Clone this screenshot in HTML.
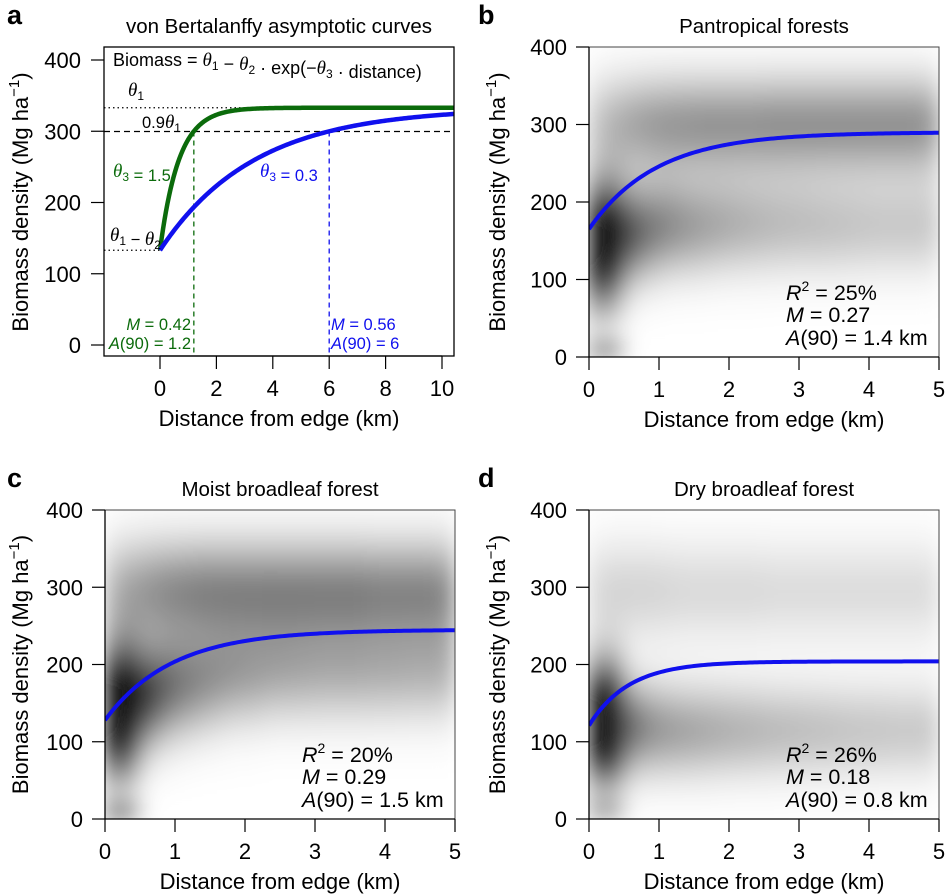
<!DOCTYPE html>
<html><head><meta charset="utf-8">
<style>
html,body{margin:0;padding:0;background:#fff;}
svg{display:block;font-family:"Liberation Sans",Arial,sans-serif;}
.t{font-size:22px;fill:#000;}
.ti{font-size:20.5px;fill:#000;}
.st{font-size:21.5px;fill:#000;}
</style></head>
<body>
<svg id="fig" width="946" height="895" viewBox="0 0 946 895" xmlns="http://www.w3.org/2000/svg">
<defs>
<filter id="blur" x="-10%" y="-10%" width="120%" height="120%"><feGaussianBlur stdDeviation="11"/></filter>
<clipPath id="clipA"><rect x="104" y="47" width="350" height="309"/></clipPath>
</defs>
</svg>
<script>
// ---------- data ----------
const aTheta1 = 333, aTheta2 = 200;
const aTheta3 = [1.5, 0.3];
const aA90 = [1.2, 6];
const aColors = ['#0b6b0b', '#1010ee'];
const aXTicks = [0, 2, 4, 6, 8, 10];
const yTicks = [0, 100, 200, 300, 400];
const xTicks5 = [0, 1, 2, 3, 4, 5];
const fitTheta1 = [290, 245, 204];
const fitStart = [165, 128, 121];
const fitA90 = [1.4, 1.5, 0.8];
const fitStats = [['25%', '0.27', '1.4'], ['20%', '0.29', '1.5'], ['26%', '0.18', '0.8']];
const panelTitles = ['Pantropical forests', 'Moist broadleaf forest', 'Dry broadleaf forest'];
const bUpperI = [0.22,0.3,0.36,0.4,0.42,0.43,0.44,0.44,0.44,0.44,0.45,0.45,0.45,0.45,0.45,0.45,0.45,0.45,0.45,0.43];
const bLowerMu = [145,150,160,165,170,170,170,172,172,172,172,172,172,170,170,170,170,170,170,170];
const bLowerI = [1.4,1.1,0.7,0.55,0.48,0.42,0.38,0.35,0.32,0.3,0.28,0.27,0.26,0.25,0.24,0.23,0.22,0.22,0.22,0.22];
const cUpperI = [0.28,0.36,0.42,0.46,0.48,0.5,0.5,0.5,0.5,0.5,0.5,0.5,0.5,0.5,0.5,0.48,0.48,0.48,0.48,0.46];
const cLowerMu = [140,145,160,170,175,180,185,190,190,195,195,195,195,195,195,195,195,195,195,195];
const cLowerI = [1.4,1.2,0.8,0.62,0.52,0.46,0.42,0.39,0.37,0.35,0.34,0.33,0.32,0.32,0.32,0.31,0.31,0.3,0.3,0.3];
const dUpperI = [0.15,0.17,0.17,0.17,0.16,0.15,0.15,0.15,0.15,0.15,0.14,0.14,0.14,0.14,0.14,0.14,0.14,0.14,0.14,0.14];
const dLowerMu = [125,125,120,118,116,115,115,115,115,115,115,115,115,115,115,115,115,115,115,115];
const dLowerI = [1.5,1.3,0.6,0.45,0.4,0.37,0.35,0.33,0.31,0.3,0.28,0.27,0.26,0.25,0.24,0.23,0.23,0.22,0.22,0.22];

// ---------- helpers ----------
const NS = 'http://www.w3.org/2000/svg';
const svg = document.getElementById('fig');
function mk(tag, attrs, parent, text) {
  const e = document.createElementNS(NS, tag);
  for (const k in attrs) e.setAttribute(k, attrs[k]);
  if (text !== undefined) e.textContent = text;
  (parent || svg).appendChild(e);
  return e;
}
function scale(d0, d1, r0, r1) { return v => r0 + (v - d0) / (d1 - d0) * (r1 - r0); }

function yAxisLabel(x, yc, g) {
  const t = mk('text', {x: 0, y: 0, class: 't', transform: `translate(${x},${yc}) rotate(-90)`, 'text-anchor': 'middle'}, g);
  
  
  t.innerHTML = 'Biomass density (Mg ha<tspan dy="-9" font-size="15">\u22121</tspan><tspan dy="9">)</tspan>';
}

// ---------- panel a ----------
(function () {
  const g = mk('g', {});
  
  
  const X = scale(0, 10, 160, 442), Y = scale(0, 400, 345, 60);
  const lt = mk('text', {x: 7, y: 24, 'font-size': '27', 'font-weight': 'bold'}, g, 'a');
  
  
  const tt = mk('text', {x: 279, y: 33, class: 'ti', 'text-anchor': 'middle'}, g, 'von Bertalanffy asymptotic curves');
  
  
  const l1 = mk('line', {x1: 104, x2: 454, y1: Y(aTheta1), y2: Y(aTheta1), stroke: '#000', 'stroke-width': 1.2, 'stroke-dasharray': '1.5 3'}, g);
   
  const l2 = mk('line', {x1: 104, x2: 454, y1: Y(0.9 * aTheta1), y2: Y(0.9 * aTheta1), stroke: '#000', 'stroke-width': 1.2, 'stroke-dasharray': '6 4'}, g);
   
  const l3 = mk('line', {x1: 104, x2: X(0), y1: Y(aTheta1 - aTheta2), y2: Y(aTheta1 - aTheta2), stroke: '#000', 'stroke-width': 1.2, 'stroke-dasharray': '1.5 3'}, g);
   
  aA90.forEach((a, i) => {
    const v = mk('line', {x1: X(a), x2: X(a), y1: Y(0.9 * aTheta1), y2: 356, stroke: aColors[i], 'stroke-width': 1.3, 'stroke-dasharray': '5 4'}, g);
     
  });
  const cg = mk('g', {'clip-path': 'url(#clipA)'}, g);
  aTheta3.forEach((th, i) => {
    let d = '';
    for (let k = 0; k <= 200; k++) {
      const x = k * 10.6 / 200;
      const y = aTheta1 - aTheta2 * Math.exp(-th * x);
      d += (k ? 'L' : 'M') + X(x).toFixed(2) + ',' + Y(y).toFixed(2);
    }
    const p = mk('path', {d: d, fill: 'none', stroke: aColors[i], 'stroke-width': 4.5}, cg);
    
    
  });
  const bx = mk('rect', {x: 104, y: 47, width: 350, height: 309, fill: 'none', stroke: '#000', 'stroke-width': 1.3}, g);
   
  yTicks.forEach(v => {
    mk('line', {x1: 91, x2: 104, y1: Y(v), y2: Y(v), stroke: '#000', 'stroke-width': 1.2}, g);
    const t = mk('text', {x: 81, y: Y(v) + 8, class: 't', 'text-anchor': 'end'}, g, v);
     
  });
  aXTicks.forEach(v => {
    mk('line', {x1: X(v), x2: X(v), y1: 356, y2: 369, stroke: '#000', 'stroke-width': 1.2}, g);
    const t = mk('text', {x: X(v), y: 396, class: 't', 'text-anchor': 'middle'}, g, v);
     
  });
  mk('line', {x1: X(0), x2: X(10), y1: 356, y2: 356, stroke: '#000', 'stroke-width': 1.2}, g);
  yAxisLabel(28, 202, g);
  const xl = mk('text', {x: 279, y: 426, class: 't', 'text-anchor': 'middle'}, g, 'Distance from edge (km)');
   
  const th = (n) => `<tspan font-family="Liberation Serif" font-style="italic" font-size="19">θ</tspan><tspan font-size="12" dy="4">${n}</tspan><tspan dy="-4"></tspan>`;
  const f = mk('text', {x: 113, y: 66, 'font-size': '18'}, g);
   
  f.innerHTML = 'Biomass = ' + th(1) + ' − ' + th(2) + ' · exp(−' + th(3) + ' · distance)';
  function anno(x, y, html, color, name, anchor) {
    const t = mk('text', {x: x, y: y, 'font-size': '16.5', fill: color, 'text-anchor': anchor || 'start'}, g);
     
    t.innerHTML = html;
  }
  anno(128, 96, th(1), '#000', 'theta1-label');
  anno(142, 128, '0.9' + th(1), '#000', 'ninety-theta1-label');
  anno(110, 241, th(1) + ' − ' + th(2), '#000', 'intercept-label');
  anno(113, 177, th(3) + ' = ' + aTheta3[0], aColors[0], 'green-theta3-label');
  anno(260, 177, th(3) + ' = ' + aTheta3[1], aColors[1], 'blue-theta3-label');
  anno(191, 330, '<tspan font-style="italic">M</tspan> = 0.42', aColors[0], 'green-m-label', 'end');
  anno(191, 349, '<tspan font-style="italic">A</tspan>(90) = ' + aA90[0], aColors[0], 'green-a90-label', 'end');
  anno(331, 330, '<tspan font-style="italic">M</tspan> = 0.56', aColors[1], 'blue-m-label');
  anno(331, 349, '<tspan font-style="italic">A</tspan>(90) = ' + aA90[1], aColors[1], 'blue-a90-label');
})();

// ---------- heatmap panels ----------
const panels = [
  {id: 'b', x0: 589, x1: 939, yTop: 47, yBot: 357, upper: bUpperI, mu: bLowerMu, low: bLowerI, upMu: 300, upSd: 42, lowSd: 42, edge: 0.55, lx: 505, letterX: 478},
  {id: 'c', x0: 105, x1: 455, yTop: 510, yBot: 819, upper: cUpperI, mu: cLowerMu, low: cLowerI, upMu: 295, upSd: 45, lowSd: 45, edge: 0.6, lx: 28, letterX: 7},
  {id: 'd', x0: 589, x1: 939, yTop: 510, yBot: 819, upper: dUpperI, mu: dLowerMu, low: dLowerI, upMu: 295, upSd: 45, lowSd: 40, edge: 0.35, lx: 505, letterX: 478}
];
panels.forEach((P, pi) => {
  const g = mk('g', {});
  
  
  const X = scale(0, 5, P.x0, P.x1), Y = scale(0, 400, P.yBot, P.yTop);
  const cp = mk('clipPath', {id: 'clip' + P.id}, svg.querySelector('defs'));
  mk('rect', {x: P.x0, y: P.yTop, width: P.x1 - P.x0, height: P.yBot - P.yTop}, cp);
  const hg = mk('g', {'clip-path': `url(#clip${P.id})`}, g);
   
  const bg = mk('g', {filter: 'url(#blur)'}, hg);
  const nCols = P.upper.length, dy = 10;
  for (let c = 0; c < nCols; c++) {
    const xa = c * 5 / nCols, xb = (c + 1) * 5 / nCols;
    const lowSd = P.lowSd * (c < 2 ? 1.25 : 1);
    for (let yv = 0; yv < 420; yv += dy) {
      const ym = yv + dy / 2;
      let v = P.upper[c] * Math.exp(-Math.pow(ym - P.upMu, 2) / (2 * P.upSd * P.upSd))
            + P.low[c] * Math.exp(-Math.pow(ym - P.mu[c], 2) / (2 * lowSd * lowSd));
      if (c < 2 && ym < 20) v += P.edge;
      v = Math.min(1, v);
      const gr = Math.round(255 * (1 - 0.97 * v));
      const r = mk('rect', {x: X(xa) - 0.5, y: Y(yv + dy) - 0.5, width: X(xb) - X(xa) + 1, height: Y(yv) - Y(yv + dy) + 1, fill: `rgb(${gr},${gr},${gr})`}, bg);
      
      
    }
  }
  const t1 = fitTheta1[pi], t2 = t1 - fitStart[pi];
  const t3 = Math.log(t2 / (0.1 * t1)) / fitA90[pi];
  let d = '';
  for (let k = 0; k <= 150; k++) {
    const x = k * 5 / 150;
    d += (k ? 'L' : 'M') + X(x).toFixed(2) + ',' + Y(t1 - t2 * Math.exp(-t3 * x)).toFixed(2);
  }
  const p = mk('path', {d: d, fill: 'none', stroke: '#1010ee', 'stroke-width': 4}, hg);
   
  const bx = mk('rect', {x: P.x0, y: P.yTop, width: P.x1 - P.x0, height: P.yBot - P.yTop, fill: 'none', stroke: '#444', 'stroke-width': 1}, g);
   
  mk('line', {x1: P.x0, x2: P.x0, y1: P.yTop, y2: P.yBot, stroke: '#000', 'stroke-width': 1.3}, g);
  mk('line', {x1: P.x0, x2: P.x1, y1: P.yBot, y2: P.yBot, stroke: '#000', 'stroke-width': 1.3}, g);
  yTicks.forEach(v => {
    mk('line', {x1: P.x0 - 13, x2: P.x0, y1: Y(v), y2: Y(v), stroke: '#000', 'stroke-width': 1.2}, g);
    const t = mk('text', {x: P.x0 - 22, y: Y(v) + 8, class: 't', 'text-anchor': 'end'}, g, v);
     
  });
  xTicks5.forEach(v => {
    mk('line', {x1: X(v), x2: X(v), y1: P.yBot, y2: P.yBot + 13, stroke: '#000', 'stroke-width': 1.2}, g);
    const t = mk('text', {x: X(v), y: P.yBot + 40, class: 't', 'text-anchor': 'middle'}, g, v);
     
  });
  yAxisLabel(P.lx, (P.yTop + P.yBot) / 2, g);
  const xl = mk('text', {x: (P.x0 + P.x1) / 2, y: P.yBot + 70, class: 't', 'text-anchor': 'middle'}, g, 'Distance from edge (km)');
   
  const tt = mk('text', {x: (P.x0 + P.x1) / 2, y: P.yTop - 14, class: 'ti', 'text-anchor': 'middle'}, g, panelTitles[pi]);
   
  const lt = mk('text', {x: P.letterX, y: P.yTop - 23, 'font-size': '27', 'font-weight': 'bold'}, g, P.id);
   
  const sx = P.x0 + 197, s = fitStats[pi];
  const s1 = mk('text', {x: sx, y: P.yBot - 57, class: 'st'}, g);
   
  s1.innerHTML = `<tspan font-style="italic">R</tspan><tspan font-size="14" dy="-9">2</tspan><tspan dy="9"> = ${s[0]}</tspan>`;
  const s2 = mk('text', {x: sx, y: P.yBot - 35, class: 'st'}, g);
   
  s2.innerHTML = `<tspan font-style="italic">M</tspan> = ${s[1]}`;
  const s3 = mk('text', {x: sx, y: P.yBot - 12, class: 'st'}, g);
   
  s3.innerHTML = `<tspan font-style="italic">A</tspan>(90) = ${s[2]} km`;
});
</script>
</body></html>
